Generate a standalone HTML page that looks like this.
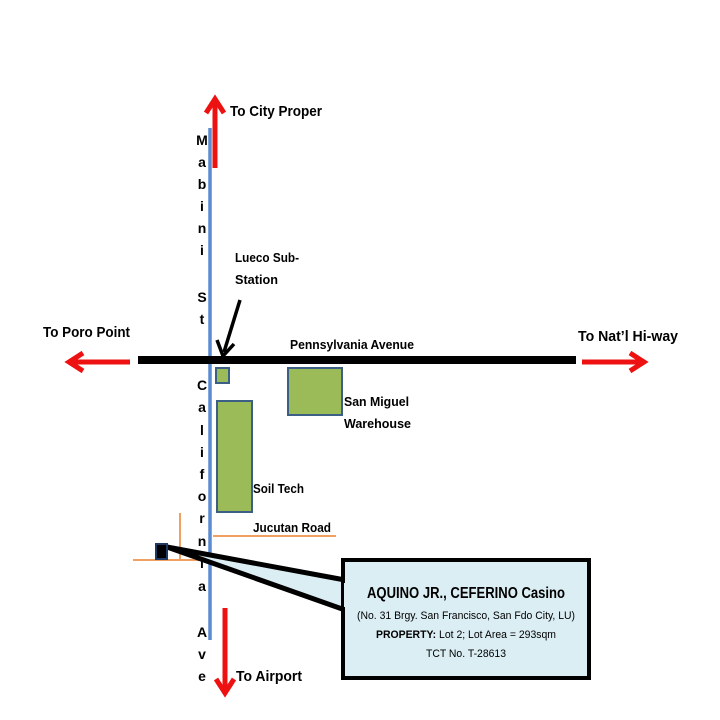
<!DOCTYPE html>
<html><head><style>body{margin:0;background:#fff}svg{display:block}text{font-family:"Liberation Sans Narrow","Liberation Sans",sans-serif;font-weight:bold;fill:#000}</style></head><body>
<svg width="720" height="720" viewBox="0 0 720 720" xmlns="http://www.w3.org/2000/svg">
<line x1="210" y1="128" x2="210" y2="640" stroke="#5b8bd0" stroke-width="3.5"/>
<g stroke="#ee1111" stroke-width="5" fill="none" stroke-linejoin="miter">
<line x1="215" y1="168" x2="215" y2="100"/><polyline points="206,113 215,99 224,113"/>
<line x1="225" y1="608" x2="225" y2="692"/><polyline points="216,679 225,693 234,679"/>
<line x1="130" y1="362" x2="70" y2="362"/><polyline points="83,353 69,362 83,371"/>
<line x1="582" y1="362" x2="643" y2="362"/><polyline points="630,353 644,362 630,371"/>
</g>
<line x1="138" y1="360" x2="576" y2="360" stroke="#000" stroke-width="8"/>
<g fill="#9bbb59" stroke="#3c5f86" stroke-width="2">
<rect x="216" y="368" width="13" height="15"/>
<rect x="217" y="401" width="35" height="111"/>
<rect x="288" y="368" width="54" height="47"/>
</g>
<g stroke="#f0a060" stroke-width="2">
<line x1="180" y1="513" x2="180" y2="561"/>
<line x1="133" y1="560" x2="200" y2="560"/>
<line x1="213" y1="536" x2="336" y2="536"/>
</g>
<line x1="240" y1="300" x2="224" y2="352" stroke="#000" stroke-width="3.5"/>
<polyline points="217,340 223,356 234,344" stroke="#000" stroke-width="3.5" fill="none"/>
<polygon points="167,547 345,580 345,610" fill="#dbeef4" stroke="#000" stroke-width="5" stroke-linejoin="miter"/>
<rect x="343" y="560" width="246" height="118" fill="#dbeef4" stroke="#000" stroke-width="4"/>
<rect x="344" y="583" width="5" height="24" fill="#dbeef4"/>
<rect x="156" y="544" width="11" height="15" fill="#000" stroke="#1f3864" stroke-width="2"/>
<g font-size="14" text-anchor="middle">
<text x="202" y="145">M</text><text x="202" y="167">a</text><text x="202" y="189">b</text><text x="202" y="211">i</text><text x="202" y="233">n</text><text x="202" y="255">i</text><text x="202" y="302">S</text><text x="202" y="324">t</text>
<text x="202" y="390">C</text><text x="202" y="412">a</text><text x="202" y="435">l</text><text x="202" y="457">i</text><text x="202" y="479">f</text><text x="202" y="501">o</text><text x="202" y="523">r</text><text x="202" y="546">n</text><text x="202" y="568">l</text><text x="202" y="591">a</text>
<text x="202" y="637">A</text><text x="202" y="659">v</text><text x="202" y="681">e</text>
</g>
<g font-size="15">
<text x="230" y="116" textLength="92" lengthAdjust="spacingAndGlyphs">To City Proper</text>
<text x="43" y="337" textLength="87" lengthAdjust="spacingAndGlyphs">To Poro Point</text>
<text x="578" y="341" textLength="100" lengthAdjust="spacingAndGlyphs">To Nat’l Hi-way</text>
<text x="236" y="681" textLength="66" lengthAdjust="spacingAndGlyphs">To Airport</text>
</g>
<g font-size="13">
<text x="235" y="262" textLength="64" lengthAdjust="spacingAndGlyphs">Lueco Sub-</text>
<text x="235" y="284" textLength="43" lengthAdjust="spacingAndGlyphs">Station</text>
<text x="290" y="349" textLength="124" lengthAdjust="spacingAndGlyphs">Pennsylvania Avenue</text>
<text x="344" y="406" textLength="65" lengthAdjust="spacingAndGlyphs">San Miguel</text>
<text x="344" y="428" textLength="67" lengthAdjust="spacingAndGlyphs">Warehouse</text>
<text x="253" y="493" textLength="51" lengthAdjust="spacingAndGlyphs">Soil Tech</text>
<text x="253" y="532" textLength="78" lengthAdjust="spacingAndGlyphs">Jucutan Road</text>
</g>
<g text-anchor="middle">
<text x="466" y="598" font-size="16" textLength="198" lengthAdjust="spacingAndGlyphs">AQUINO JR., CEFERINO Casino</text>
<text x="466" y="619" font-size="11" textLength="218" lengthAdjust="spacingAndGlyphs" style="font-weight:normal">(No. 31 Brgy. San Francisco, San Fdo City, LU)</text>
<text x="466" y="638" font-size="11" textLength="180" lengthAdjust="spacingAndGlyphs">PROPERTY: <tspan style="font-weight:normal">Lot  2; Lot Area = 293sqm</tspan></text>
<text x="466" y="657" font-size="11" textLength="80" lengthAdjust="spacingAndGlyphs" style="font-weight:normal">TCT No. T-28613</text>
</g>
</svg>
</body></html>
